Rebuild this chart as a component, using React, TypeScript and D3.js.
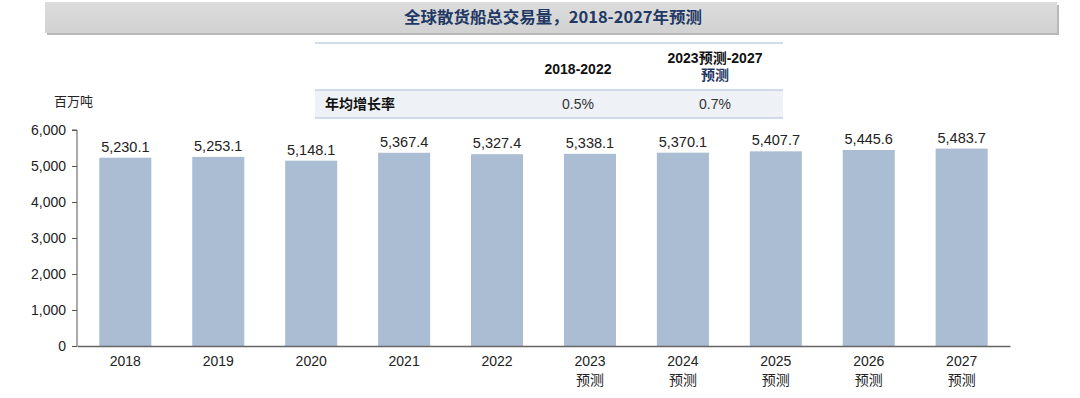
import { useEffect, useRef } from "react";
import * as d3 from "d3";

const years = ["2018", "2019", "2020", "2021", "2022", "2023", "2024", "2025", "2026", "2027"];
const forecast = [false, false, false, false, false, true, true, true, true, true];
const volumes = [5230.1, 5253.1, 5148.1, 5367.4, 5327.4, 5338.1, 5370.1, 5407.7, 5445.6, 5483.7];
const yTicks = [0, 1000, 2000, 3000, 4000, 5000, 6000];
const periods = ["2018-2022", "2023预测-2027"];
const cagr = ["0.5%", "0.7%"];

const FONT = "'Liberation Sans', Arial, 'Noto Sans CJK SC', sans-serif";
const CJK = "'Noto Sans CJK SC', 'Liberation Sans', sans-serif";

const App = () => {
  const svgRef = useRef<SVGSVGElement>(null);

  useEffect(() => {
    const width = 1080;
    const height = 398;
    const margin = { top: 130, right: 70, bottom: 52, left: 77 };
    const plotW = width - margin.left - margin.right;
    const plotH = height - margin.top - margin.bottom;

    const svg = d3.select(svgRef.current).attr("width", width).attr("height", height);
    svg.selectAll("*").remove();

    // title banner
    const defs = svg.append("defs");
    const grad = defs.append("linearGradient").attr("id", "tg").attr("x1", 0).attr("y1", 0).attr("x2", 0).attr("y2", 1);
    grad.append("stop").attr("offset", "0%").attr("stop-color", "#dcdcdc");
    grad.append("stop").attr("offset", "100%").attr("stop-color", "#d2d2d2");
    svg.append("rect").attr("x", 47).attr("y", 5).attr("width", 1012).attr("height", 30).attr("fill", "#b8b8b8");
    svg.append("rect").attr("x", 45).attr("y", 2).attr("width", 1012).attr("height", 31).attr("fill", "url(#tg)");
    svg
      .append("text")
      .attr("x", 553)
      .attr("y", 23)
      .attr("text-anchor", "middle")
      .attr("font-family", CJK)
      .attr("font-weight", "bold")
      .attr("font-size", 16)
      .attr("fill", "#1f3864")
      .attr("textLength", 298)
      .attr("lengthAdjust", "spacingAndGlyphs")
      .text("全球散货船总交易量，2018-2027年预测");

    // growth table
    const tbl = svg.append("g").attr("font-family", FONT).attr("font-size", 14).attr("fill", "#111");
    tbl.append("rect").attr("x", 315).attr("y", 90).attr("width", 468).attr("height", 28).attr("fill", "#eef1f6");
    [43, 90, 118].forEach((y) => {
      tbl.append("line").attr("x1", 315).attr("x2", 783).attr("y1", y).attr("y2", y).attr("stroke", "#c5d0e0").attr("stroke-width", 1.5);
    });
    const colX = [578, 715];
    tbl.append("text").attr("x", colX[0]).attr("y", 74).attr("text-anchor", "middle").attr("font-weight", "bold").text(periods[0]);
    tbl.append("text").attr("x", colX[1]).attr("y", 63).attr("text-anchor", "middle").attr("font-weight", "bold").text(periods[1]);
    tbl.append("text").attr("x", colX[1]).attr("y", 80).attr("text-anchor", "middle").attr("font-weight", "bold").attr("fill", "#1f3864").text("预测");
    tbl.append("text").attr("x", 325).attr("y", 109).attr("font-family", CJK).attr("font-weight", "bold").text("年均增长率");
    cagr.forEach((v, i) => {
      tbl.append("text").attr("x", colX[i]).attr("y", 109).attr("text-anchor", "middle").attr("fill", "#333").text(v);
    });

    // unit
    svg.append("text").attr("x", 54).attr("y", 106).attr("font-family", CJK).attr("font-size", 13).attr("fill", "#222").text("百万吨");

    const g = svg.append("g").attr("transform", `translate(${margin.left},${margin.top})`);

    const x = d3.scaleBand().domain(years).range([0, plotW]).paddingInner(0.44).paddingOuter(0.24);
    const y = d3.scaleLinear().domain([0, 6000]).range([plotH, 0]);

    g.selectAll(".bar")
      .data(volumes)
      .enter()
      .append("rect")
      .attr("x", (_, i) => x(years[i])!)
      .attr("y", (d) => y(d))
      .attr("width", x.bandwidth())
      .attr("height", (d) => plotH - y(d))
      .attr("fill", "#abbdd3");

    g.selectAll(".val")
      .data(volumes)
      .enter()
      .append("text")
      .attr("x", (_, i) => x(years[i])! + x.bandwidth() / 2)
      .attr("y", (d) => y(d) - 6)
      .attr("text-anchor", "middle")
      .attr("font-family", FONT)
      .attr("font-size", 14.5)
      .attr("fill", "#222")
      .text((d) => d3.format(",.1f")(d));

    // y axis
    const yAxis = g.append("g").call(d3.axisLeft(y).tickValues(yTicks).tickSize(5).tickFormat(d3.format(",")));
    yAxis.select(".domain").attr("stroke", "#555").attr("d", `M-5,0H0V${plotH}`);
    yAxis.selectAll("line").attr("stroke", "#555");
    yAxis.selectAll("text").attr("font-family", FONT).attr("font-size", 14).attr("fill", "#222").attr("x", -11);

    // x axis
    const xAxis = g.append("g").attr("transform", `translate(0,${plotH})`).call(d3.axisBottom(x).tickSize(0).tickFormat(() => ""));
    xAxis.select(".domain").attr("stroke", "#666").attr("stroke-width", 1.5);
    xAxis.selectAll(".tick").each(function (d, i) {
      const t = d3.select(this);
      t.append("text").attr("y", 20).attr("text-anchor", "middle").attr("font-family", FONT).attr("font-size", 14).attr("fill", "#222").text(d as string);
      if (forecast[i]) {
        t.append("text").attr("y", 39).attr("text-anchor", "middle").attr("font-family", CJK).attr("font-size", 14).attr("fill", "#222").text("预测");
      }
    });
  }, []);

  return (
    <div style={{ position: "absolute", left: 0, top: 0 }}>
      <svg ref={svgRef} style={{ display: "block" }}></svg>
    </div>
  );
};

export default App;
